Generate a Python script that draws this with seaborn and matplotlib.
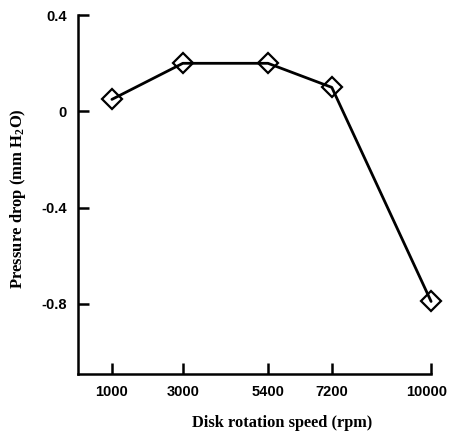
import matplotlib
matplotlib.use("Agg")
import matplotlib.pyplot as plt
import matplotlib.transforms as mtransforms
import seaborn as sns
import pandas as pd

# Pressure drop measured at each disk rotation speed
speed_rpm = [1000, 3000, 5400, 7200, 10000]
pressure_drop = [0.05, 0.20, 0.20, 0.10, -0.79]
y_ticks = [0.4, 0.0, -0.4, -0.8]
y_tick_labels = ["0.4", "0", "-0.4", "-0.8"]

sns.set_theme(style="ticks")
plt.rcParams["font.family"] = ["Liberation Sans", "DejaVu Sans"]
plt.rcParams["axes.unicode_minus"] = False
plt.rcParams["mathtext.fontset"] = "custom"
plt.rcParams["mathtext.rm"] = "Liberation Serif:bold"
plt.rcParams["mathtext.default"] = "rm"

df = pd.DataFrame({"speed": speed_rpm, "dp": pressure_drop})

fig = plt.figure(figsize=(4.5, 4.34), dpi=100)
ax = fig.add_axes([0.173, 0.138, 0.785, 0.827])

sns.lineplot(data=df, x="speed", y="dp", ax=ax, color="black", linewidth=2.0,
             marker="D", markersize=10, markerfacecolor="none",
             markeredgecolor="black", markeredgewidth=1.6, clip_on=False)

ax.set_xlim(40, 10000)
ax.set_ylim(-1.092, 0.4)
ax.set_xticks(speed_rpm)
ax.set_xticklabels([str(v) for v in speed_rpm])
ax.set_yticks(y_ticks)
ax.set_yticklabels(y_tick_labels)

for s in ("top", "right"):
    ax.spines[s].set_visible(False)
for s in ("left", "bottom"):
    ax.spines[s].set_linewidth(1.8)
    ax.spines[s].set_color("black")

ax.tick_params(axis="both", direction="in", length=8, width=1.8, colors="black",
               labelsize=10.5, pad=8)
for lab in ax.get_xticklabels() + ax.get_yticklabels():
    lab.set_fontweight("bold")

# nudge the last x label so it stays inside the figure
last = ax.get_xticklabels()[-1]
last.set_transform(last.get_transform() +
                   mtransforms.ScaledTranslation(-3 / 72, 0, fig.dpi_scale_trans))

ax.set_xlabel("Disk rotation speed (rpm)", family="Liberation Serif",
              fontweight="bold", fontsize=11.8, color="black")
ax.set_ylabel("Pressure drop (mm H$_2$O)", family="Liberation Serif",
              fontweight="bold", fontsize=12, color="black")
ax.xaxis.set_label_coords(0.578, -0.115)
ax.yaxis.set_label_coords(-0.141, 0.49)

fig.savefig("out.png", dpi=100)
